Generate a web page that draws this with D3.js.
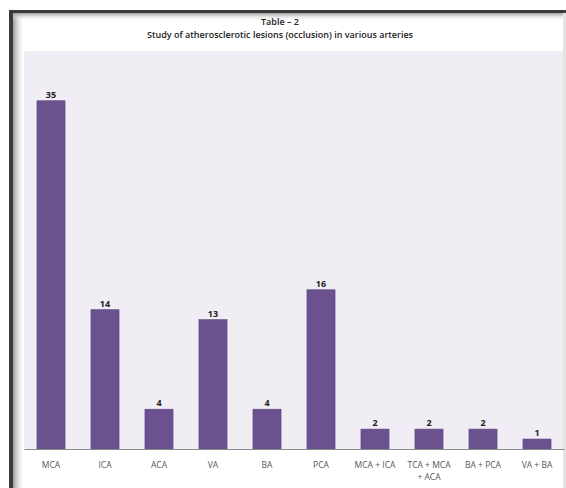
<!DOCTYPE html>
<html>
<head>
<meta charset="utf-8">
<script src="https://cdn.jsdelivr.net/npm/d3@7"></script>
<style>
  html, body { margin: 0; padding: 0; background: #ffffff; }
  svg { display: block; }
</style>
</head>
<body>
<svg id="chart" width="566" height="488"></svg>
<script>
// Arteries studied and number of occlusions found in each
const categories = ["MCA", "ICA", "ACA", "VA", "BA", "PCA", "MCA + ICA", "TCA + MCA + ACA", "BA + PCA", "VA + BA"];
const counts = [35, 14, 4, 13, 4, 16, 2, 2, 2, 1];
const tickLabels = [["MCA"], ["ICA"], ["ACA"], ["VA"], ["BA"], ["PCA"], ["MCA + ICA"], ["TCA + MCA", "+ ACA"], ["BA + PCA"], ["VA + BA"]];
const titleLines = ["Table \u2013 2", "Study of atherosclerotic lesions (occlusion) in various arteries"];

const svg = d3.select("#chart");
const W = 566, H = 488;
const font = "'Open Sans', 'Liberation Sans', sans-serif";

// Frame with soft inner shadow along top and left edges
const defs = svg.append("defs");
const gl = defs.append("linearGradient").attr("id", "shadeL").attr("x1", 0).attr("x2", 1).attr("y1", 0).attr("y2", 0);
gl.append("stop").attr("offset", "0%").attr("stop-color", "#9a9a9a");
gl.append("stop").attr("offset", "100%").attr("stop-color", "#ffffff").attr("stop-opacity", 0);
const gt = defs.append("linearGradient").attr("id", "shadeT").attr("x1", 0).attr("x2", 0).attr("y1", 0).attr("y2", 1);
gt.append("stop").attr("offset", "0%").attr("stop-color", "#a0a0a0");
gt.append("stop").attr("offset", "100%").attr("stop-color", "#ffffff").attr("stop-opacity", 0);

const plot = { left: 24, right: 564, top: 51, bottom: 449 };

// plot area background
svg.append("rect")
  .attr("x", plot.left).attr("y", plot.top)
  .attr("width", plot.right - plot.left).attr("height", plot.bottom - plot.top)
  .attr("fill", "#f0edf5");

svg.append("rect").attr("x", 13).attr("y", 13).attr("width", 12).attr("height", H - 13).attr("fill", "url(#shadeL)");
svg.append("rect").attr("x", 13).attr("y", 13).attr("width", W - 13).attr("height", 8).attr("fill", "url(#shadeT)");
svg.append("rect").attr("x", 9).attr("y", 10).attr("width", W - 9).attr("height", 3).attr("fill", "#3a3a3a");
svg.append("rect").attr("x", 9).attr("y", 10).attr("width", 4).attr("height", H - 10).attr("fill", "#3a3a3a");
svg.append("rect").attr("x", 563).attr("y", 13).attr("width", 3).attr("height", H - 13).attr("fill", "#e4e4e4");

// Title
svg.append("g").selectAll("text").data(titleLines).join("text")
  .attr("x", 280).attr("y", (d, i) => 25 + i * 13)
  .attr("text-anchor", "middle")
  .attr("font-family", font).attr("font-size", 9).attr("font-weight", 600)
  .attr("fill", "#222")
  .text(d => d);

const x = d3.scaleBand().domain(categories).range([plot.left, plot.right]).paddingInner(0.48).paddingOuter(0.24);
const y = d3.scaleLinear().domain([0, 40]).range([plot.bottom, plot.top]);

// Bars
svg.append("g").selectAll("rect").data(categories).join("rect")
  .attr("x", d => x(d)).attr("width", x.bandwidth())
  .attr("y", (d, i) => y(counts[i])).attr("height", (d, i) => y(0) - y(counts[i]))
  .attr("fill", "#6b5190").attr("stroke", "#5c4480").attr("stroke-width", 0.6);

// Value labels
svg.append("g").selectAll("text").data(categories).join("text")
  .attr("x", d => x(d) + x.bandwidth() / 2)
  .attr("y", (d, i) => y(counts[i]) - 3)
  .attr("text-anchor", "middle")
  .attr("font-family", font).attr("font-size", 9).attr("font-weight", 700)
  .attr("fill", "#222")
  .text((d, i) => counts[i]);

// Category axis
const axis = svg.append("g").attr("transform", `translate(0,${plot.bottom})`)
  .call(d3.axisBottom(x).tickSize(0).tickFormat(""));
axis.select(".domain").attr("stroke", "#8a8a8a").attr("stroke-width", 1.2);

const tl = svg.append("g").selectAll("text").data(categories).join("text")
  .attr("text-anchor", "middle")
  .attr("font-family", font).attr("font-size", 8.5)
  .attr("fill", "#555");
tl.each(function (d, i) {
  d3.select(this).selectAll("tspan").data(tickLabels[i]).join("tspan")
    .attr("x", x(d) + x.bandwidth() / 2)
    .attr("y", (t, j) => plot.bottom + 19 + j * 12)
    .text(t => t);
});
</script>
</body>
</html>
